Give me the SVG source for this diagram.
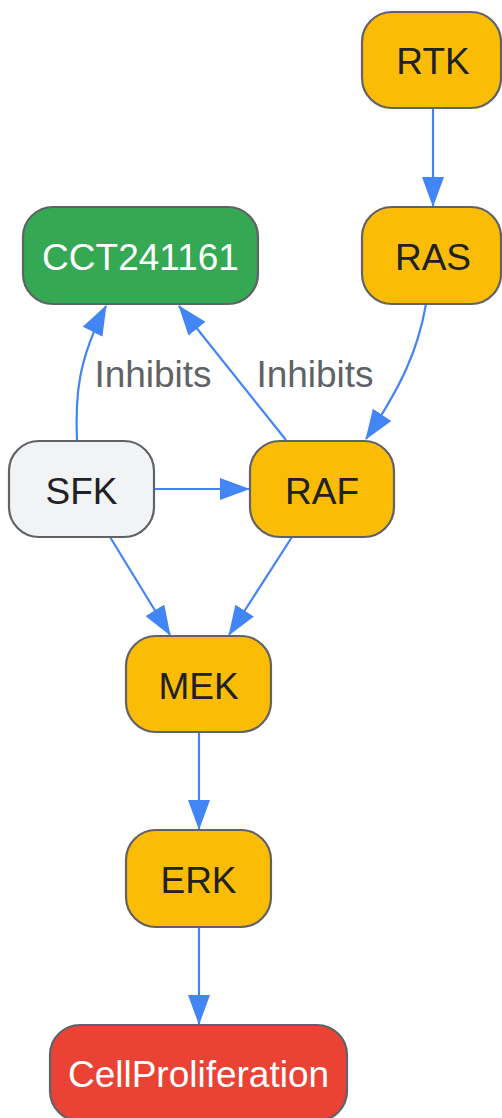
<svg xmlns="http://www.w3.org/2000/svg" width="502" height="1118" viewBox="0 0 502 1118">
<style>
.node rect{stroke:#5f6368;stroke-width:2.2}
.y rect{fill:#fbbc05}
.g rect{fill:#34a853}
.r rect{fill:#ea4335}
.s rect{fill:#f1f3f4}
text{font-family:"Liberation Sans",Arial,sans-serif;font-size:37px;text-anchor:middle}
.dark{fill:#202124}
.light{fill:#ffffff}
.lbl{fill:#5f6368}
.edge{fill:none;stroke:#4285f4;stroke-width:2.2;marker-end:url(#arr)}
</style>
<defs>
<marker id="arr" viewBox="0 0 30 22" refX="29" refY="11" markerWidth="30" markerHeight="22" markerUnits="userSpaceOnUse" orient="auto">
<path d="M0,0 L30,11 L0,22 z" fill="#4285f4"/>
</marker>
</defs>
<g id="connectors">
<path class="edge" d="M433,108 L433,206"/>
<path class="edge" d="M426,304 C418,350 402,385 366,439"/>
<path class="edge" d="M286,440 L179,306"/>
<path class="edge" d="M77,441 C75,395 78,360 106,306"/>
<path class="edge" d="M154,489 L249,489"/>
<path class="edge" d="M110,537 L170,635"/>
<path class="edge" d="M292,537 L229,635"/>
<path class="edge" d="M199,732 L199,829"/>
<path class="edge" d="M199,927 L199,1024"/>
<text class="lbl" x="153" y="387">Inhibits</text>
<text class="lbl" x="315" y="387">Inhibits</text>
</g>
<g id="RTK" class="node y"><rect x="362" y="12" width="139" height="96" rx="30"/><text class="dark" x="433" y="74">RTK</text></g>
<g id="RAS" class="node y"><rect x="362" y="207" width="139" height="97" rx="30"/><text class="dark" x="433" y="270">RAS</text></g>
<g id="CCT241161" class="node g"><rect x="23" y="207" width="235" height="97" rx="30"/><text class="light" x="140.5" y="270">CCT241161</text></g>
<g id="SFK" class="node s"><rect x="9" y="441" width="145" height="96" rx="30"/><text class="dark" x="81.5" y="504">SFK</text></g>
<g id="RAF" class="node y"><rect x="250" y="441" width="144" height="96" rx="30"/><text class="dark" x="322" y="504">RAF</text></g>
<g id="MEK" class="node y"><rect x="126" y="636" width="145" height="96" rx="30"/><text class="dark" x="198.5" y="699">MEK</text></g>
<g id="ERK" class="node y"><rect x="126" y="830" width="145" height="97" rx="30"/><text class="dark" x="198.5" y="893">ERK</text></g>
<g id="CellProliferation" class="node r"><rect x="50" y="1025" width="297" height="96" rx="30"/><text class="light" x="198.5" y="1087">CellProliferation</text></g>
</svg>
